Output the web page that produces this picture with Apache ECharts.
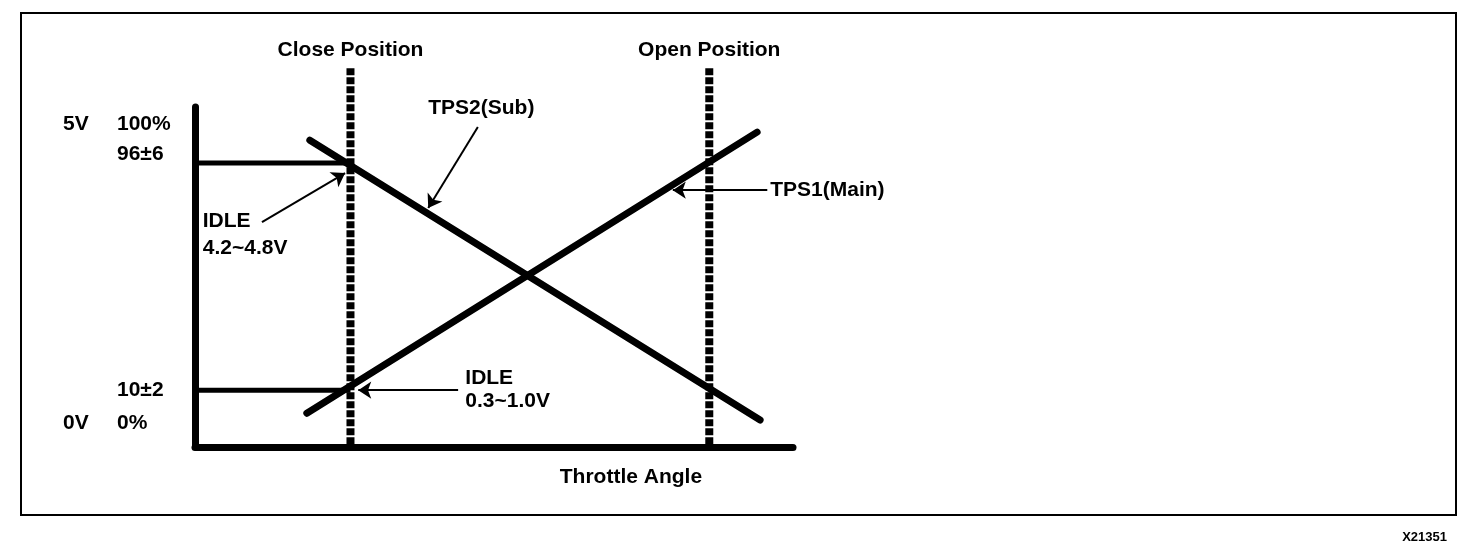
<!DOCTYPE html>
<html><head><meta charset="utf-8">
<script src="https://cdn.jsdelivr.net/npm/echarts@6/dist/echarts.min.js"></script>
<style>html,body{margin:0;padding:0;background:#fff}#c{width:1472px;height:560px}</style>
</head><body><div id="c"></div>
<script>
// ---- data (throttle angle 0..100 on x, output % on y) ----
const closePos = 26;
const openPos = 86;
const tps1Main = [[18.7, 3.3], [94.0, 97.3]];
const tps2Sub = [[19.2, 94.6], [94.5, 1.0]];
const refHigh = 87;   // 96±6 reference level
const refLow = 11;    // 10±2 reference level
const dashTop = 118.7;
const dashBottom = -8;
const yTickValues = [100, 90, 11, 0];
const yTickVolts = ['5V', '', '', '0V'];
const yTickPercents = ['100%', '96±6', '10±2', '0%'];
const annotationText = ['Close Position', 'Open Position', 'TPS2(Sub)', 'TPS1(Main)', 'IDLE', '4.2~4.8V', 'IDLE', '0.3~1.0V', 'Throttle Angle'];
const annotationX = [26, 86, 39.0, 96.2, 1.3, 1.3, 45.2, 45.2, 72.9];
const annotationY = [124.7, 124.7, 105.4, 77.9, 67.6, 58.5, 15.1, 7.4, -18.1];
const arrowFrom = [[11.2, 67.2], [44.0, 11.0], [47.3, 99.0], [95.7, 77.9]];
const arrowTo = [[25.1, 83.6], [27.3, 11.0], [39.0, 71.9], [79.9, 77.9]];
const figureCode = 'X21351';

// ---- chart ----
const FONT = '"Liberation Sans", Arial, Helvetica, sans-serif';
const centered = new Set(['Close Position', 'Open Position', 'Throttle Angle']);
const chart = echarts.init(document.getElementById('c'), null, {renderer: 'canvas'});

const option = {
  animation: false,
  backgroundColor: '#fff',
  grid: {left: 195, top: 107, width: 598, bottom: 113, containLabel: false},
  xAxis: {
    type: 'value', min: 0, max: 100,
    axisLine: {show: true, onZero: false, lineStyle: {color: '#000', width: 7}},
    axisTick: {show: false}, axisLabel: {show: false}, splitLine: {show: false}
  },
  yAxis: {
    type: 'value', min: -8, max: 105.7,
    axisLine: {show: true, onZero: false, lineStyle: {color: '#000', width: 7}},
    axisTick: {show: false}, splitLine: {show: false},
    axisLabel: {
      show: true,
      customValues: yTickValues,
      align: 'left',
      margin: 132,
      formatter: function (v) {
        const i = yTickValues.indexOf(v);
        if (i < 0) return '';
        const volt = yTickVolts[i] || ' ';
        return '{v|' + volt + '}{p|' + yTickPercents[i] + '}';
      },
      rich: {
        v: {width: 54, fontFamily: FONT, fontWeight: 'bold', fontSize: 21, color: '#000'},
        p: {fontFamily: FONT, fontWeight: 'bold', fontSize: 21, color: '#000'}
      }
    }
  },
  graphic: [
    {type: 'rect', shape: {x: 21, y: 13, width: 1435, height: 502}, style: {fill: 'none', stroke: '#000', lineWidth: 2}, silent: true},
    {type: 'text', right: 1472 - 1447, top: 531, style: {text: figureCode, font: 'bold 13px ' + FONT, fill: '#000'}}
  ],
  series: [
    {
      type: 'line', name: 'Close Position', data: [[closePos, dashTop], [closePos, dashBottom]],
      clip: false, symbol: 'none', silent: true,
      lineStyle: {color: '#000', width: 8, type: [7, 2], cap: 'butt'}
    },
    {
      type: 'line', name: 'Open Position', data: [[openPos, dashTop], [openPos, dashBottom]],
      clip: false, symbol: 'none', silent: true,
      lineStyle: {color: '#000', width: 8, type: [7, 2], cap: 'butt'}
    },
    {
      type: 'line', name: '96±6', data: [[0, refHigh], [closePos, refHigh]],
      symbol: 'none', silent: true, lineStyle: {color: '#000', width: 5}
    },
    {
      type: 'line', name: '10±2', data: [[0, refLow], [closePos, refLow]],
      symbol: 'none', silent: true, lineStyle: {color: '#000', width: 5}
    },
    {
      type: 'line', name: 'TPS1(Main)', data: tps1Main,
      symbol: 'none', silent: true, lineStyle: {color: '#000', width: 7, cap: 'round'}
    },
    {
      type: 'line', name: 'TPS2(Sub)', data: tps2Sub,
      symbol: 'none', silent: true, lineStyle: {color: '#000', width: 7, cap: 'round'},
      markLine: {
        silent: true, symbol: ['none', 'arrow'], symbolSize: 13, precision: 3,
        lineStyle: {color: '#000', width: 2, type: 'solid'},
        label: {show: false},
        emphasis: {disabled: true},
        data: arrowFrom.map((p, i) => [{coord: p}, {coord: arrowTo[i]}])
      }
    },
    {
      type: 'scatter', name: 'labels', clip: false, symbolSize: 0, silent: true,
      itemStyle: {opacity: 1, color: '#000'},
      data: annotationText.map((t, i) => ({
        name: t, value: [annotationX[i], annotationY[i]],
        label: {align: centered.has(t) ? 'center' : 'left'}
      })),
      label: {
        show: true, position: [0, 0], verticalAlign: 'middle',
        formatter: p => p.name,
        fontFamily: FONT, fontWeight: 'bold', fontSize: 21, color: '#000', opacity: 1
      }
    }
  ]
};
chart.setOption(option);
</script>
</body></html>
